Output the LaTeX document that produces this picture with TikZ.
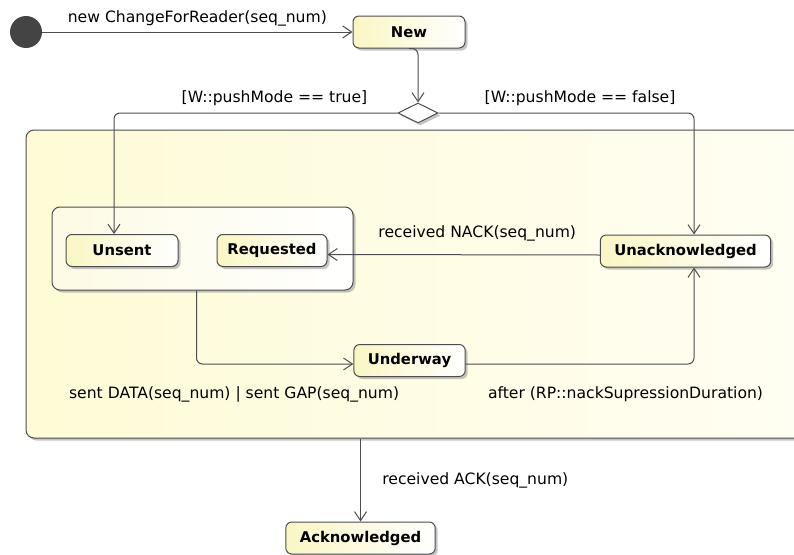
\documentclass[tikz,border=0pt]{standalone}
\usepackage{fontspec}
\setmainfont{DejaVu Sans}
\usetikzlibrary{arrows.meta,positioning,shapes.geometric,shadows}

\definecolor{linegray}{RGB}{77,77,77}
\definecolor{initgray}{RGB}{68,68,68}
\definecolor{stateyellow}{RGB}{250,246,196}
\definecolor{boxyellow}{RGB}{254,251,214}
\definecolor{boxwhite}{RGB}{255,254,244}

\tikzset{
  umlshadow/.style={drop shadow={shadow xshift=2.5pt, shadow yshift=-2.5pt, fill=black!45}},
  stbox/.style={draw=linegray, line width=1pt, rounded corners=6pt, left color=stateyellow, right color=white,
    minimum height=32pt, inner xsep=14pt, font=\fontsize{14.8}{18}\selectfont\bfseries, umlshadow},
  choice/.style={diamond, aspect=2, draw=linegray, fill=white, line width=1pt, minimum width=40pt,
    minimum height=20pt, inner sep=0pt, umlshadow},
  conn/.style={->, draw=linegray, line width=1pt, rounded corners=6pt},
  lbl/.style={font=\fontsize{15.6}{18}\selectfont, text=black}
}

\begin{document}
\begin{tikzpicture}[x=1pt, y=-1pt, >={Straight Barb[length=9pt,width=12pt]}]
	\clip (0,0) rectangle (794,554);

	% composite states
	\node[draw=linegray, line width=1pt, rounded corners=8pt, left color=boxyellow, right color=boxwhite,
	      minimum width=820pt, minimum height=308pt, umlshadow] (active) at (436,284) {};
	\node[draw=linegray, line width=1pt, rounded corners=8pt, left color=stateyellow!45, right color=white,
	      minimum width=301pt, minimum height=83pt, umlshadow] (pending) at (202.5,248.5) {};

	% states
	\node[circle, fill=initgray, minimum size=32pt, inner sep=0pt] (init) at (26,32) {};
	\node[stbox, minimum width=112pt] (new) at (409,32) {New};
	\node[choice] (dec) at (418,113) {};
	\node[stbox, minimum width=112pt] (unsent) at (122,250.5) {Unsent};
	\node[stbox, minimum width=110pt, inner xsep=10pt] (requested) [right=38pt of unsent] {Requested};
	\node[stbox] (unack) at (685.5,251) {Unacknowledged};
	\node[stbox] (underway) at (409.5,360.5) {Underway};
	\node[stbox] (acked) at (360.5,538) {Acknowledged};

	% transitions
	\draw[conn] (init) -- (new) node[lbl, midway, above=2pt] {new ChangeForReader(seq\_num)};
	\draw[conn] (new.south) -| (dec.north);
	\draw[conn] (dec.west) -| ([xshift=-8pt]unsent.north)
		node[lbl, pos=0.217, above=3pt] {[W::pushMode == true]};
	\draw[conn] (dec.east) -| ([xshift=8.5pt]unack.north)
		node[lbl, pos=0.277, above=3pt] {[W::pushMode == false]};
	\draw[conn] ([yshift=-4pt]unack.west) -- ([yshift=-4pt]requested.east)
		node[lbl, pos=0.45, above=10pt] {received NACK(seq\_num)};
	\draw[conn] ([xshift=-6pt]pending.south) |- ([yshift=-3.5pt]underway.west)
		node[lbl, pos=0.62, below=19pt] {sent DATA(seq\_num) | sent GAP(seq\_num)};
	\draw[conn] ([yshift=-3.5pt]underway.east) -| ([xshift=8.5pt]unack.south)
		node[lbl, pos=0.35, below=19pt] {after (RP::nackSupressionDuration)};
	\draw[conn] (active.south -| acked.north) -- (acked.north)
		node[lbl, midway, right=18pt] {received ACK(seq\_num)};
\end{tikzpicture}
\end{document}
